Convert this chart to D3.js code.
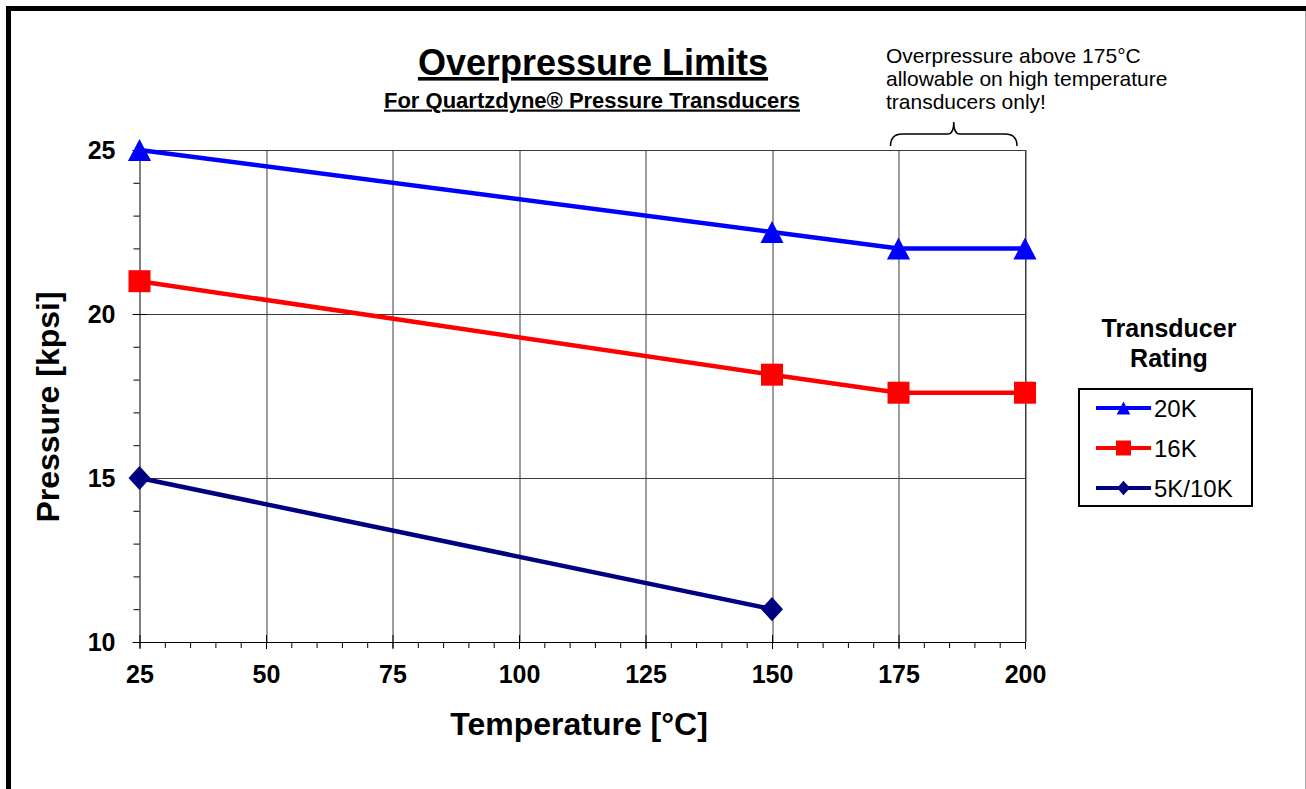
<!DOCTYPE html>
<html>
<head>
<meta charset="utf-8">
<script src="https://cdn.jsdelivr.net/npm/d3@7"></script>
<style>
  body { margin: 0; background: #fff; }
  svg { display: block; font-family: Arial, "Liberation Sans", sans-serif; }
</style>
</head>
<body>
<div id="chart"></div>
<script>
// chart values
var temps = [25, 150, 175, 200];
var press20K = [25, 22.5, 22, 22];
var press16K = [21, 18.15, 17.6, 17.6];
var temps5K = [25, 150];
var press5K = [15, 11];
var xTicks = [25, 50, 75, 100, 125, 150, 175, 200];
var yTicks = [10, 15, 20, 25];
var seriesNames = ['20K', '16K', '5K/10K'];

var svgWidth = 1306;
var svgHeight = 789;

var margin = { top: 150, left: 139.5, right: 281, bottom: 147 };
var width = svgWidth - margin.left - margin.right;
var height = svgHeight - margin.top - margin.bottom;

var svg = d3.select('#chart')
    .append('svg')
    .attr('width', svgWidth)
    .attr('height', svgHeight);

// outer frame
svg.append('line').attr('x1', 6).attr('x2', 1306).attr('y1', 8.5).attr('y2', 8.5)
    .attr('stroke', '#000').attr('stroke-width', 5);
svg.append('line').attr('x1', 8.5).attr('x2', 8.5).attr('y1', 6).attr('y2', 789)
    .attr('stroke', '#000').attr('stroke-width', 5);
svg.append('line').attr('x1', 1305.5).attr('x2', 1305.5).attr('y1', 11).attr('y2', 789)
    .attr('stroke', '#aaa').attr('stroke-width', 1);

var chartGroup = svg.append('g')
    .attr('transform', `translate(${margin.left}, ${margin.top})`);

var xScale = d3.scaleLinear().domain([25, 200]).range([0, width]);
var yScale = d3.scaleLinear().domain([10, 25]).range([height, 0]);

// gridlines
chartGroup.append('g')
    .selectAll('line')
    .data(xTicks.slice(1))
    .enter()
    .append('line')
    .attr('x1', d => Math.round(xScale(d)) + 0.5)
    .attr('x2', d => Math.round(xScale(d)) + 0.5)
    .attr('y1', 0)
    .attr('y2', height)
    .attr('stroke', '#3a3a3a')
    .attr('stroke-width', 1);

chartGroup.append('g')
    .selectAll('line')
    .data(yTicks.slice(1))
    .enter()
    .append('line')
    .attr('x1', 0)
    .attr('x2', width)
    .attr('y1', d => Math.round(yScale(d)) + 0.5)
    .attr('y2', d => Math.round(yScale(d)) + 0.5)
    .attr('stroke', '#3a3a3a')
    .attr('stroke-width', 1);

// minor ticks (outside)
var xMinor = d3.range(25, 201, 5);
var yMinor = d3.range(10, 25.01, 1);

chartGroup.append('g')
    .attr('transform', `translate(0, ${height})`)
    .call(d3.axisBottom(xScale).tickValues(xMinor).tickSize(6).tickFormat(''))
    .call(g => g.select('.domain').remove());

chartGroup.append('g')
    .call(d3.axisLeft(yScale).tickValues(yMinor).tickSize(6).tickFormat(''))
    .call(g => g.select('.domain').remove());

// major ticks (cross) + labels
var bottomAxis = d3.axisBottom(xScale).tickValues(xTicks).tickSizeInner(7).tickSizeOuter(0).tickPadding(16);
var leftAxis = d3.axisLeft(yScale).tickValues(yTicks).tickSizeInner(7).tickSizeOuter(0).tickPadding(17);

var xAxisG = chartGroup.append('g')
    .attr('transform', `translate(0, ${height})`)
    .call(bottomAxis);
xAxisG.selectAll('.tick line').attr('y1', -7);
xAxisG.selectAll('text')
    .attr('font-size', 25).attr('font-weight', 'bold').attr('fill', '#000')
    .attr('font-family', 'Arial, "Liberation Sans", sans-serif');

var yAxisG = chartGroup.append('g').call(leftAxis);
yAxisG.selectAll('.tick line').attr('x1', 7);
yAxisG.selectAll('text')
    .attr('font-size', 25).attr('font-weight', 'bold').attr('fill', '#000')
    .attr('font-family', 'Arial, "Liberation Sans", sans-serif');

chartGroup.selectAll('.domain').attr('stroke', '#000');

// plot area border top/right
chartGroup.append('line').attr('x1', 0).attr('x2', width).attr('y1', 0.5).attr('y2', 0.5)
    .attr('stroke', '#3a3a3a');
chartGroup.append('line').attr('x1', width + 0.5).attr('x2', width + 0.5).attr('y1', 0).attr('y2', height)
    .attr('stroke', '#3a3a3a');

// series
var series = [
    { name: seriesNames[0], x: temps, y: press20K, color: '#0000FF', shape: 'triangle' },
    { name: seriesNames[1], x: temps, y: press16K, color: '#FF0000', shape: 'square' },
    { name: seriesNames[2], x: temps5K, y: press5K, color: '#000080', shape: 'diamond' }
];

function markerPath(shape, s) {
    if (shape === 'triangle') return `M0,${-s}L${s * 1.05},${s}L${-s * 1.05},${s}Z`;
    if (shape === 'square') return `M${-s},${-s}H${s}V${s}H${-s}Z`;
    return `M0,${-s * 1.1}L${s},0L0,${s * 1.1}L${-s},0Z`;
}

var line = d3.line().x(d => xScale(d[0])).y(d => yScale(d[1]));

series.forEach(function(s) {
    var pts = s.x.map((v, i) => [v, s.y[i]]);
    chartGroup.append('path')
        .datum(pts)
        .attr('d', line)
        .attr('fill', 'none')
        .attr('stroke', s.color)
        .attr('stroke-width', 4.5);
    chartGroup.append('g')
        .selectAll('path')
        .data(pts)
        .enter()
        .append('path')
        .attr('transform', d => `translate(${xScale(d[0])}, ${yScale(d[1])})`)
        .attr('d', markerPath(s.shape, 11))
        .attr('fill', s.color);
});

// titles
svg.append('text')
    .attr('x', 593).attr('y', 75)
    .attr('text-anchor', 'middle')
    .attr('font-size', 36).attr('font-weight', 'bold')
    .style('text-decoration', 'underline')
    .text('Overpressure Limits');

svg.append('text')
    .attr('x', 592).attr('y', 107.5)
    .attr('text-anchor', 'middle')
    .attr('font-size', 22).attr('font-weight', 'bold')
    .style('text-decoration', 'underline')
    .text('For Quartzdyne® Pressure Transducers');

// annotation
var note = ['Overpressure above 175°C', 'allowable on high temperature', 'transducers only!'];
svg.append('g')
    .selectAll('text')
    .data(note)
    .enter()
    .append('text')
    .attr('x', 886)
    .attr('y', (d, i) => 63 + i * 23)
    .attr('font-size', 21)
    .text(d => d);

var bx0 = margin.left + xScale(175) - 8;
var bx1 = margin.left + xScale(200) - 8;
var bm = (bx0 + bx1) / 2;
svg.append('path')
    .attr('d', `M${bx0},146 Q${bx0},134 ${bx0 + 12},134 L${bm - 6},134 Q${bm},134 ${bm},122 Q${bm},134 ${bm + 6},134 L${bx1 - 12},134 Q${bx1},134 ${bx1},146`)
    .attr('fill', 'none')
    .attr('stroke', '#000')
    .attr('stroke-width', 1.5);

// axis titles
svg.append('text')
    .attr('transform', 'translate(59, 407) rotate(-90)')
    .attr('text-anchor', 'middle')
    .attr('font-size', 32).attr('font-weight', 'bold')
    .text('Pressure [kpsi]');

svg.append('text')
    .attr('x', 579).attr('y', 735)
    .attr('text-anchor', 'middle')
    .attr('font-size', 32).attr('font-weight', 'bold')
    .text('Temperature [°C]');

// legend
svg.append('text')
    .attr('x', 1169).attr('y', 337)
    .attr('text-anchor', 'middle')
    .attr('font-size', 25).attr('font-weight', 'bold')
    .text('Transducer');
svg.append('text')
    .attr('x', 1169).attr('y', 367)
    .attr('text-anchor', 'middle')
    .attr('font-size', 25).attr('font-weight', 'bold')
    .text('Rating');

svg.append('rect')
    .attr('x', 1079).attr('y', 389)
    .attr('width', 173).attr('height', 117)
    .attr('fill', '#fff')
    .attr('stroke', '#000')
    .attr('stroke-width', 2);

var legendY = d3.scalePoint().domain(seriesNames).range([408, 488]);
var legendG = svg.append('g')
    .selectAll('g')
    .data(series)
    .enter()
    .append('g')
    .attr('transform', d => `translate(0, ${legendY(d.name)})`);

legendG.append('line')
    .attr('x1', 1096).attr('x2', 1151)
    .attr('stroke', d => d.color)
    .attr('stroke-width', 4);
legendG.append('path')
    .attr('transform', 'translate(1123.5, 0)')
    .attr('d', d => markerPath(d.shape, d.shape === 'square' ? 7.5 : 6.5))
    .attr('fill', d => d.color);
legendG.append('text')
    .attr('x', 1154)
    .attr('y', 9)
    .attr('font-size', 24)
    .text(d => d.name);
</script>
</body>
</html>
